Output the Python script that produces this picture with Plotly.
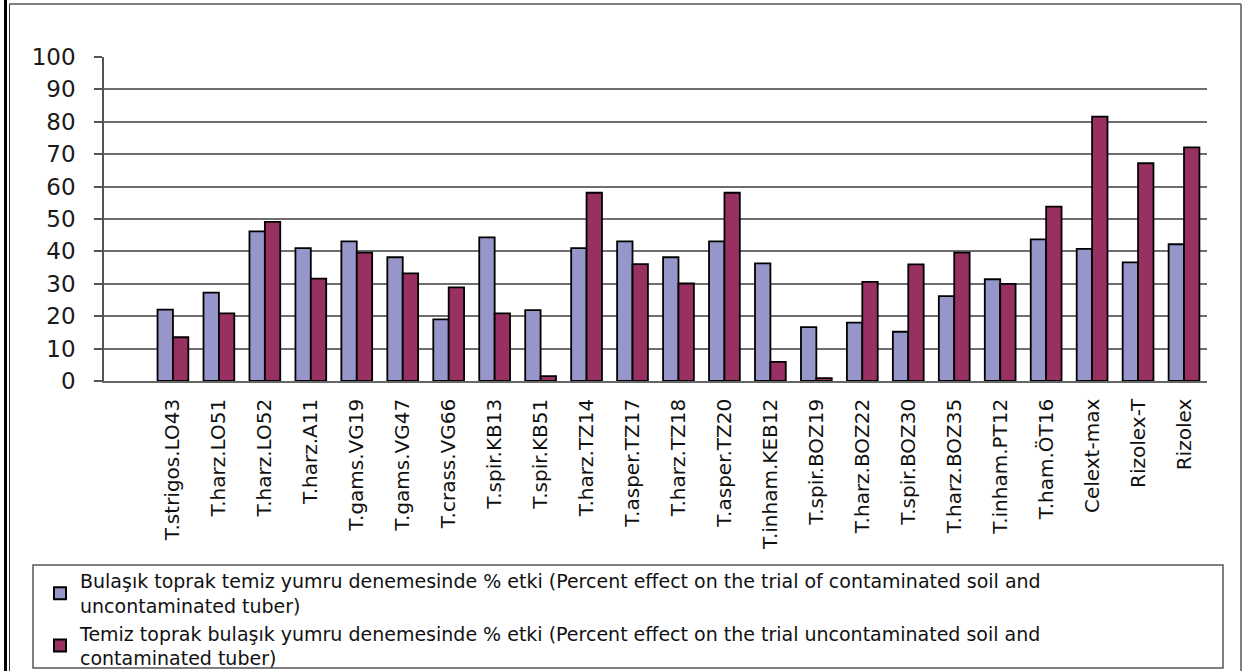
import plotly.graph_objects as go

# Isolates / treatments along the x axis (first slot left empty)
categories = [
    "T.strigos.LO43", "T.harz.LO51", "T.harz.LO52", "T.harz.A11", "T.gams.VG19",
    "T.gams.VG47", "T.crass.VG66", "T.spir.KB13", "T.spir.KB51", "T.harz.TZ14",
    "T.asper.TZ17", "T.harz.TZ18", "T.asper.TZ20", "T.inham.KEB12", "T.spir.BOZ19",
    "T.harz.BOZ22", "T.spir.BOZ30", "T.harz.BOZ35", "T.inham.PT12", "T.ham.ÖT16",
    "Celext-max", "Rizolex-T", "Rizolex",
]

# % effect, contaminated soil + clean tuber
contaminated_soil = [
    22.0, 27.3, 46.2, 41.0, 43.1, 38.2, 19.0, 44.3, 21.9, 41.0,
    43.1, 38.2, 43.1, 36.3, 16.6, 18.0, 15.2, 26.2, 31.4, 43.7,
    40.8, 36.6, 42.2,
]

# % effect, clean soil + contaminated tuber
contaminated_tuber = [
    13.5, 20.9, 49.1, 31.6, 39.6, 33.2, 28.9, 20.9, 1.5, 58.1,
    36.1, 30.1, 58.1, 5.9, 0.9, 30.6, 36.0, 39.6, 30.0, 53.8,
    81.6, 67.2, 72.1,
]

series_names = [
    "Bulaşık toprak temiz yumru denemesinde % etki (Percent effect on the trial of contaminated soil and<br>uncontaminated tuber)",
    "Temiz toprak bulaşık yumru denemesinde % etki (Percent effect on the trial uncontaminated soil and<br>contaminated tuber)",
]

y_ticks = [0, 10, 20, 30, 40, 50, 60, 70, 80, 90, 100]

W, H = 1246, 671
L, R, T, B = 104, 39, 57, 290
PW, PH = W - L - R, H - T - B

def px_x(p):
    return (p - L) / PW

def px_y(p):
    return (H - B - p) / PH

xs = list(range(len(categories)))

fig = go.Figure()
fig.add_trace(go.Bar(
    x=xs, y=contaminated_soil, name=series_names[0],
    marker=dict(color="#9696CA", line=dict(color="#000000", width=1.8)),
))
fig.add_trace(go.Bar(
    x=xs, y=contaminated_tuber, name=series_names[1],
    marker=dict(color="#983062", line=dict(color="#000000", width=1.8)),
))

font_family = "DejaVu Sans, Liberation Sans, Arial, sans-serif"

fig.update_layout(
    width=W, height=H,
    margin=dict(l=L, r=R, t=T, b=B, pad=0, autoexpand=False),
    paper_bgcolor="white", plot_bgcolor="white",
    barmode="group", bargap=0.33, bargroupgap=0.0,
    showlegend=True,
    legend=dict(
        x=px_x(40), y=px_y(562), xanchor="left", yanchor="top",
        orientation="v", bgcolor="rgba(0,0,0,0)", borderwidth=0,
        font=dict(family=font_family, size=19, color="#111111"),
        tracegroupgap=0, itemsizing="constant", itemwidth=30,
        traceorder="normal",
    ),
    xaxis=dict(
        range=[-1.5, len(categories) - 0.5],
        tickmode="array", tickvals=xs, ticktext=categories,
        tickangle=-90, showgrid=False, zeroline=False,
        showline=True, linecolor="#666666", linewidth=1.5,
        ticks="", ticklabelstandoff=8,
        tickfont=dict(family=font_family, size=20, color="#111111"),
    ),
    yaxis=dict(
        range=[0, 100], tickmode="array", tickvals=y_ticks,
        showgrid=True, gridcolor="#6e6e6e", gridwidth=1.5,
        zeroline=False, showline=True, linecolor="#555555", linewidth=1.5,
        ticks="outside", ticklen=8, tickcolor="#555555", tickwidth=1.5,
        ticklabelstandoff=14,
        tickfont=dict(family=font_family, size=23, color="#1a1a1a"),
    ),
)

# Outer frame of the figure
frame = dict(type="line", xref="paper", yref="paper")
fig.add_shape(**frame, x0=px_x(5.5), x1=px_x(5.5), y0=px_y(0), y1=px_y(H),
              line=dict(color="#000000", width=3))
fig.add_shape(**frame, x0=px_x(9.5), x1=px_x(9.5), y0=px_y(4), y1=px_y(H),
              line=dict(color="#333333", width=1))
fig.add_shape(**frame, x0=px_x(9.5), x1=px_x(1241), y0=px_y(4), y1=px_y(4),
              line=dict(color="#555555", width=1.5))
fig.add_shape(**frame, x0=px_x(1241), x1=px_x(1241), y0=px_y(4), y1=px_y(H),
              line=dict(color="#555555", width=1.5))

# Legend box
fig.add_shape(type="rect", xref="paper", yref="paper",
              x0=px_x(33), x1=px_x(1223), y0=px_y(565), y1=px_y(668),
              line=dict(color="#555555", width=1.5), fillcolor="rgba(0,0,0,0)")

fig.write_html("out.html")
